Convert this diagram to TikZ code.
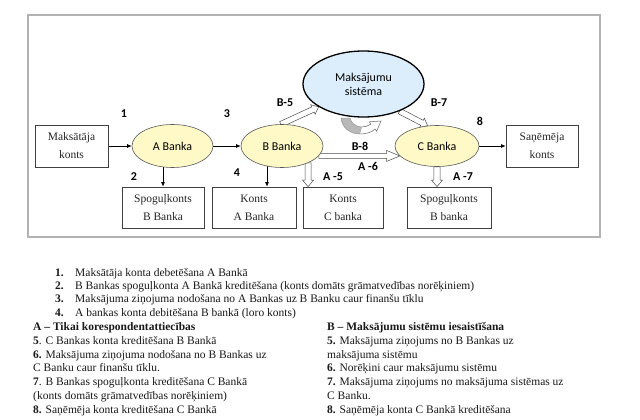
\documentclass[tikz,border=0pt]{standalone}
\usepackage{fontspec}
\setmainfont{Liberation Serif}
\newfontfamily\carl{Carlito}
\usetikzlibrary{shapes.geometric,shapes.arrows,arrows.meta,calc,backgrounds}
\definecolor{bankfill}{HTML}{FFF9C8}
\definecolor{sysfill}{HTML}{DCEEFB}
\newcommand\harr[3][]{%
  \path let \p1=#2, \p2=#3, \n1={atan2(\y2-\y1,\x2-\x1)}, \n2={veclen(\x2-\x1,\y2-\y1)} in
    node[hollowarr,#1,rotate=\n1,minimum height=\n2,anchor=tail] at (\p1) {};}
\begin{document}
\begin{tikzpicture}[x=1pt,y=-1pt,
  box/.style={draw=black!75,line width=0.7pt,align=center,text=black!85,font=\fontsize{11.5}{18}\selectfont,inner sep=0pt},
  bank/.style={ellipse,draw=black!65,line width=0.6pt,fill=bankfill,inner sep=0pt,font=\carl\fontsize{12}{14}\selectfont},
  lbl/.style={font=\carl\bfseries\fontsize{12}{14}\selectfont,inner sep=0pt},
  thinarr/.style={draw=black,line width=0.7pt,-{Latex[length=4.5pt,width=4pt]}},
  hollowarr/.style={single arrow,draw=black!70,fill=white,line width=0.5pt,inner xsep=0pt,inner ysep=2.6pt,single arrow head extend=2.4pt,single arrow tip angle=80,outer sep=0pt},
  txt/.style={anchor=base west,inner sep=0pt,text=black!90,font=\fontsize{11.5}{14}\selectfont}
]
\begin{scope}[on background layer]
\fill[white] (0,0) rectangle (640,420);
\draw[black!30,line width=1.2pt] (28,15) rectangle (600,237);
\end{scope}
\useasboundingbox (0,0) rectangle (640,420);

% nodes
\node[box,minimum width=73pt,minimum height=42pt] (pay) at (71.5,146) {Maksātāja\\konts};
\node[bank,minimum width=81pt,minimum height=43pt] (A) at (172.5,146) {A Banka};
\node[bank,minimum width=82pt,minimum height=43pt] (B) at (282,146) {B Banka};
\node[bank,minimum width=84pt,minimum height=41pt] (C) at (437,146) {C Banka};
\node[ellipse,draw=black,line width=1.3pt,fill=sysfill,minimum width=121pt,minimum height=66pt,align=center,font=\carl\fontsize{12}{14}\selectfont,inner sep=0pt] (sys) at (363.5,84) {Maksājumu\\sistēma};
\node[box,minimum width=72pt,minimum height=42pt] (rec) at (542,146) {Saņēmēja\\konts};
\node[box,minimum width=82pt,minimum height=41pt] (sb1) at (163,207.5) {Spoguļkonts\\B Banka};
\node[box,minimum width=84pt,minimum height=41pt] (ka) at (254,207.5) {Konts\\A Banka};
\node[box,minimum width=80pt,minimum height=41pt] (kc) at (343,207.5) {Konts\\C banka};
\node[box,minimum width=84pt,minimum height=41pt] (sb2) at (449,207.5) {Spoguļkonts\\B banka};

% connectors
\begin{scope}[on background layer]
\draw[thinarr] (pay.east) -- (A.west);
\draw[thinarr] (A.east) -- (B.west);
\draw[thinarr] (sb1.north |- A.center) -- (sb1.north);
\coordinate (b4) at ($(B.center)+(-15,0)$);
\draw[thinarr] (b4) -- (b4 |- ka.north);
\draw[thinarr] (C.east) -- (rec.west);
\harr{(B.93)}{(sys.207)}
\harr{(sys.-37)}{(C.115)}
\coordinate (b5) at (B.-33);
\harr[inner ysep=2.8pt]{(b5)}{(b5 |- kc.north)}
\harr[inner ysep=2.2pt,single arrow head extend=3pt,single arrow tip angle=45]{(B.-15)}{(C.195)}
\harr[inner ysep=2.8pt]{(C.south)}{(C.south |- sb2.north)}
\end{scope}

% curved arrow
\fill[black!28,draw=black!45,line width=0.4pt] (341,118) .. controls (342,128) and (350,134) .. (360,134) -- (362,127) .. controls (356,127) and (351,123) .. (350,118) -- cycle;
\draw[black!60,fill=white,line width=0.5pt] (360,134) .. controls (367,134) and (372,132) .. (375,129) -- (376.7,131.2) -- (381,121) -- (369.3,121.8) -- (371,124) .. controls (368,126) and (365,127) .. (362,127);

% labels
\node[lbl] (n1) at (124,114) {1};
\node[lbl] (n3) at (227,114) {3};
\node[lbl] (nb5) at (285,103) {B-5};
\node[lbl] (n2) at (134,177) {2};
\node[lbl] (n4) at (237,173) {4};
\node[lbl] (nb7) at (439,103) {B-7};
\node[lbl] (n8) at (480,121) {8};
\node[lbl] (nb8) at (360,146) {B-8};
\node[lbl] (na6) at (368,166) {A -6};
\node[lbl] (na5) at (333,177) {A -5};
\node[lbl] (na7) at (463,177) {A -7};

% text
\node[txt] (t1n) at (55,276) {\textbf{1.}};
\node[txt] (t1) at (75,276) {Maksātāja konta debetēšana A Bankā};
\node[txt] (t2n) at (55,289) {\textbf{2.}};
\node[txt] (t2) at (75,289) {B Bankas spoguļkonta A Bankā kreditēšana (konts domāts grāmatvedības norēķiniem)};
\node[txt] (t3n) at (55,302) {\textbf{3.}};
\node[txt] (t3) at (75,302) {Maksājuma ziņojuma nodošana no A Bankas uz B Banku caur finanšu tīklu};
\node[txt] (t4n) at (55,316) {\textbf{4.}};
\node[txt] (t4) at (75,316) {A bankas konta debitēšana B bankā (loro konts)};

\node[txt] (la) at (33,330) {\textbf{A – Tikai korespondentattiecības}};
\node[txt] (l5) at (33,344) {\textbf{5}. C Bankas konta kreditēšana B Bankā};
\node[txt] (l6) at (33,358) {\textbf{6.} Maksājuma ziņojuma nodošana no B Bankas uz};
\node[txt] (l6b) at (33,371) {C Banku caur finanšu tīklu.};
\node[txt] (l7) at (33,385) {\textbf{7}. B Bankas spoguļkonta kreditēšana C Bankā};
\node[txt] (l7b) at (33,399) {(konts domāts grāmatvedības norēķiniem)};
\node[txt] (l8) at (33,413) {\textbf{8.} Saņēmēja konta kreditēšana C Bankā};

\node[txt] (rb) at (327,330) {\textbf{B – Maksājumu sistēmu iesaistīšana}};
\node[txt] (r5) at (327,344) {\textbf{5.} Maksājuma ziņojums no B Bankas uz};
\node[txt] (r5b) at (327,358) {maksājuma sistēmu};
\node[txt] (r6) at (327,371) {\textbf{6.} Norēķini caur maksājumu sistēmu};
\node[txt] (r7) at (327,385) {\textbf{7.} Maksājuma ziņojums no maksājuma sistēmas uz};
\node[txt] (r7b) at (327,399) {C Banku.};
\node[txt] (r8) at (327,413) {\textbf{8.} Saņēmēja konta C Bankā kreditēšana};
\end{tikzpicture}
\end{document}
